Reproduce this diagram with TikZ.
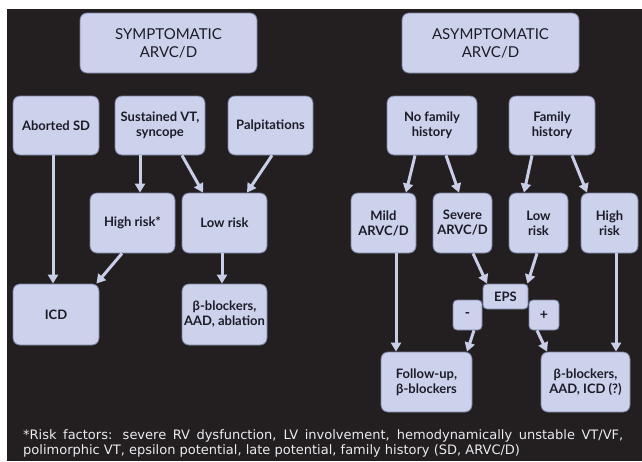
\documentclass[tikz,border=0pt]{standalone}
\usepackage{fontspec}
\setmainfont{Lato}
\newfontfamily\notefont{DejaVu Sans}
\usetikzlibrary{arrows.meta}
\definecolor{bgc}{RGB}{35,31,32}
\definecolor{boxfill}{RGB}{205,210,236}
\definecolor{boxborder}{RGB}{120,128,160}
\definecolor{textc}{RGB}{28,28,40}
\definecolor{arrc}{RGB}{200,205,232}
\definecolor{notec}{RGB}{235,235,240}
\tikzset{
  bx/.style={draw=boxborder, fill=boxfill, rounded corners=7pt, line width=0.8pt,
    inner sep=0pt, align=center, text=textc,
    font=\fontsize{13}{15}\selectfont\bfseries},
  sz/.style 2 args={minimum width=#1pt, minimum height=#2pt},
  ttl/.style={font=\fontsize{15}{18}\selectfont},
  arr/.style={draw=arrc, line width=3pt, -{Triangle[width=10pt,length=9pt]}},
  note/.style={text=notec, font=\notefont\fontsize{13}{15}\selectfont, inner sep=0pt, anchor=base west}
}
\begin{document}
\begin{tikzpicture}[x=1pt,y=-1pt]
\useasboundingbox (0,0) rectangle (642,461);
\fill[white] (0,0) rectangle (642,461);
\fill[bgc] (7,9) rectangle (642,461);
% left side
\node[bx,ttl,sz={177}{60}] (sym) at (168.5,43) {SYMPTOMATIC\\ARVC/D};
\node[bx,sz={86}{59}] (abs) at (56,125.5) {Aborted SD};
\node[bx,sz={90}{59}] (sus) at (160,125.5) {Sustained VT,\\syncope};
\node[bx,sz={85}{59}] (pal) at (270.5,125.5) {Palpitations};
\node[bx,sz={85}{60}] (hr) at (132.5,223) {High risk*};
\node[bx,sz={85}{60}] (lr) at (224.5,223) {Low risk};
\node[bx,sz={86}{61}] (icd) at (56,314.5) {ICD};
\node[bx,sz={85}{61}] (bb1) at (224.5,314.5) {β-blockers,\\AAD, ablation};
% right side
\node[bx,ttl,sz={177}{60}] (asym) at (490.5,43) {ASYMPTOMATIC\\ARVC/D};
\node[bx,sz={90}{59}] (nfh) at (432,125.5) {No family\\history};
\node[bx,sz={86}{59}] (fh) at (552,125.5) {Family\\history};
\node[bx,sz={65}{60}] (mild) at (383.5,223) {Mild\\ARVC/D};
\node[bx,sz={59}{60}] (sev) at (462.5,223) {Severe\\ARVC/D};
\node[bx,sz={59}{60}] (lr2) at (538.5,223) {Low\\risk};
\node[bx,sz={57}{60}] (hr2) at (609.5,223) {High\\risk};
\node[bx,sz={45}{25},rounded corners=4pt] (eps) at (505.5,296.5) {EPS};
\node[bx,sz={29}{30},rounded corners=4pt,font=\fontsize{14}{15}\selectfont\bfseries] (minus) at (467.5,315) {-};
\node[bx,sz={30}{30},rounded corners=4pt,font=\fontsize{14}{15}\selectfont\bfseries] (plus) at (544,315) {+};
\node[bx,sz={91}{60}] (fu) at (426.5,382) {Follow-up,\\β-blockers};
\node[bx,sz={89}{60}] (bb2) at (585.5,382) {β-blockers,\\AAD, ICD (?)};
% arrows left
\draw[arr] ([xshift=-3pt]abs.south) -- ([xshift=-3pt]icd.north);
\draw[arr] ([xshift=-20pt]sus.south) -- ([xshift=7.5pt]hr.north);
\draw[arr] ([xshift=22pt]sus.south) -- ([xshift=-21.5pt]lr.north);
\draw[arr] ([xshift=1.5pt]pal.south) -- ([xshift=22.5pt]lr.north);
\draw[arr] ([xshift=-10.5pt]hr.south) -- ([xshift=-3pt]icd.north east);
\draw[arr] ([xshift=-2.5pt]lr.south) -- ([xshift=-2.5pt]bb1.north);
% arrows right
\draw[arr] ([xshift=-17pt]nfh.south) -- ([xshift=22.5pt]mild.north);
\draw[arr] ([xshift=14pt]nfh.south) -- ([xshift=-3.5pt]sev.north);
\draw[arr] ([xshift=-20pt]fh.south) -- ([xshift=-14.5pt]lr2.north);
\draw[arr] ([xshift=20pt]fh.south) -- ([xshift=-22.5pt]hr2.north);
\draw[arr] ([xshift=12.5pt]mild.south) -- ([xshift=-30.5pt]fu.north);
\draw[arr] ([xshift=10.5pt]sev.south) -- ([xshift=-18.5pt]eps.north);
\draw[arr] ([xshift=-1.5pt]lr2.south) -- ([xshift=-1pt]eps.north east);
\draw[arr] ([xshift=6.5pt]minus.south) -- ([xshift=40.5pt]fu.north);
\draw[arr] ([xshift=-7pt]plus.south) -- ([xshift=-38.5pt]bb2.north);
\draw[arr] ([xshift=6.5pt]hr2.south) -- ([xshift=30.5pt]bb2.north);
% footnote
\node[note] (n1) at (23,439) {\makebox[600pt][s]{*Risk factors: severe RV dysfunction, LV involvement, hemodynamically unstable VT/VF,}};
\node[note] (n2) at (23,454) {polimorphic VT, epsilon potential, late potential, family history (SD, ARVC/D)};
\end{tikzpicture}
\end{document}
